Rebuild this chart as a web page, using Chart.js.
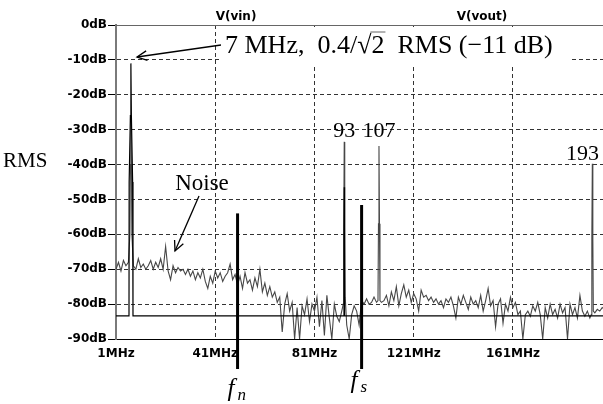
<!DOCTYPE html>
<html>
<head>
<meta charset="utf-8">
<script src="https://cdn.jsdelivr.net/npm/chart.js@4/dist/chart.umd.min.js"></script>
<style>
  html, body { margin: 0; padding: 0; background: #fff; }
</style>
</head>
<body>
<canvas id="fftChart" width="603" height="404"></canvas>
<script>
// x axis tick positions (MHz)
const freqTicks = [1, 41, 81, 121, 161];

// V(vin): flat floor with the 7 MHz tone and its alias at 93 MHz
const vinFreq = [1, 6.24, 6.3, 6.8, 7, 7.2, 7.7, 7.85, 92.85, 92.9, 93, 93.1, 93.15, 197.3];
const vinDb = [-83.4, -83.4, -45, -26, -11, -26, -45, -83.4, -83.4, -60, -46.5, -60, -83.4, -83.4];

// V(vout): noisy spectrum with images at 93, 107 and 193 MHz
const noiseFreq = [
  1, 2, 3, 4, 5, 6, 6.6, 6.8, 7, 7.2, 7.4,
  8, 9, 10, 11, 12, 13, 14, 15, 16, 17, 18, 19, 20,
  21, 22, 23, 24, 25, 26, 27, 28, 29, 30,
  31, 32, 33, 34, 35, 36, 37, 38, 39, 40,
  41, 42, 43, 44, 45, 46, 47, 48, 49, 50,
  51, 52, 53, 54, 55, 56, 57, 58, 59, 60,
  61, 62, 63, 64, 65, 66, 67, 68, 69, 70,
  71, 72, 73, 74, 75, 76, 77, 78, 79, 80,
  81, 82, 83, 84, 85, 86, 87, 88, 89, 90,
  91, 92, 92.6, 92.8, 93, 93.2, 93.4, 94, 95, 96, 97, 98, 99, 100,
  101, 102, 103, 104, 105, 106, 106.6, 106.8, 107, 107.2, 107.4, 108, 109, 110,
  111, 112, 113, 114, 115, 116, 117, 118, 119, 120,
  121, 122, 123, 124, 125, 126, 127, 128, 129, 130,
  131, 132, 133, 134, 135, 136, 137, 138, 139, 140,
  141, 142, 143, 144, 145, 146, 147, 148, 149, 150,
  151, 152, 153, 154, 155, 156, 157, 158, 159, 160,
  161, 162, 163, 164, 165, 166, 167, 168, 169, 170,
  171, 172, 173, 174, 175, 176, 177, 178, 179, 180,
  181, 182, 183, 184, 185, 186, 187, 188, 189, 190,
  191, 192, 192.6, 192.8, 193, 193.2, 193.4, 194, 195, 196, 197, 198
];
const noiseDb = [
  -70, -68, -70.5, -67.5, -69, -68, -60, -40, -26, -40, -60,
  -69, -70, -67, -69.5, -68.5, -70, -69, -67.5, -70, -68, -69.5, -67, -70,
  -63.5, -70.5, -73, -69, -71, -69.5, -70.5, -70, -71.5, -70,
  -72, -70.5, -73, -71, -72.5, -70, -73.5, -75.5, -72, -74,
  -70.5, -72.5, -71, -73.5, -72, -71, -68.5, -73, -71.5, -74.5,
  -72, -75.5, -71, -74, -73, -76, -72.5, -75, -70, -76.5,
  -74, -77.5, -75, -78, -76.5, -79.5, -78, -88, -80, -77,
  -82, -79.5, -90, -81, -90, -80.5, -83, -78.5, -85, -80,
  -82, -78, -86.5, -79, -89, -77.5, -84, -90, -80, -83.5,
  -85, -82, -80, -58, -33.5, -58, -78, -86, -90, -83, -80.5, -82, -86, -79,
  -80, -78.5, -80, -79.5, -78, -79.5, -79, -57, -34.7, -57, -79, -79.5, -79, -77.5,
  -80.5, -76.5, -79, -75, -80.5, -77, -74.5, -78, -76, -79.5,
  -77, -78.5, -82, -76, -78, -77.5, -79, -78, -79.5, -78.5,
  -80, -79, -81, -78.5, -79.5, -78, -80.5, -84, -78, -80,
  -77.5, -79.5, -81.5, -78, -80, -79, -81, -77.5, -82, -79,
  -75.5, -80.5, -79, -86.5, -80, -78.5, -85.5, -80, -82, -78,
  -81, -79.5, -83, -82, -90, -83, -82, -83.5, -80.5, -82,
  -79.5, -83, -90, -81, -84, -80, -83, -81.5, -84, -80,
  -82.5, -81, -90, -80, -83, -81, -84, -77.5, -82, -83.5,
  -82, -84, -83, -61, -39.8, -61, -82, -82.5, -81.5, -82, -81, -81.5
];

// f_n and f_s marker bars
const markerFreq = [50, 100];
const markerTopDb = [-54, -51.6];
const markerNames = ["n", "s"];

// labels above the image peaks
const peakNames = ["93", "107", "193"];
const peakFreq = [93, 107, 193];
const peakLabelDb = [-32.2, -32.2, -38.6];

const toPoints = (xs, ys) => xs.map((x, i) => ({ x: x, y: ys[i] }));

function drawArrow(ctx, x1, y1, x2, y2, head) {
  ctx.beginPath();
  ctx.moveTo(x1, y1);
  ctx.lineTo(x2, y2);
  ctx.stroke();
  const a = Math.atan2(y2 - y1, x2 - x1);
  ctx.beginPath();
  ctx.moveTo(x2 - head * Math.cos(a - 0.45), y2 - head * Math.sin(a - 0.45));
  ctx.lineTo(x2, y2);
  ctx.lineTo(x2 - head * Math.cos(a + 0.45), y2 - head * Math.sin(a + 0.45));
  ctx.stroke();
}

// frame line and all the text notes
const annotate = {
  id: "annotate",
  afterDraw(chart) {
    const ctx = chart.ctx;
    const { left, right, top, bottom } = chart.chartArea;
    const xs = chart.scales.x;
    const ys = chart.scales.y;
    ctx.save();

    // top line at 0 dB
    ctx.strokeStyle = "#666";
    ctx.lineWidth = 1;
    ctx.beginPath();
    ctx.moveTo(left, top + 0.5);
    ctx.lineTo(right, top + 0.5);
    ctx.stroke();

    // trace names
    ctx.fillStyle = "#000";
    ctx.font = "bold 12px 'DejaVu Sans'";
    ctx.textAlign = "center";
    ctx.textBaseline = "middle";
    ctx.fillText("V(vin)", 236, 17);
    ctx.fillText("V(vout)", 482, 17);

    // y label
    ctx.font = "21px 'Liberation Serif'";
    ctx.textAlign = "left";
    ctx.textBaseline = "alphabetic";
    ctx.fillText("RMS", 3, 167);

    // 7 MHz note with white box behind it
    ctx.fillStyle = "#fff";
    ctx.fillRect(219, 27, 350, 37);
    ctx.fillStyle = "#000";
    ctx.font = "26px 'Liberation Serif'";
    let tx = 225;
    const base = 53;
    const p1 = "7 MHz,  0.4/";
    ctx.fillText(p1, tx, base);
    tx += ctx.measureText(p1).width;
    ctx.fillText("\u221A", tx, base);
    const sw = ctx.measureText("\u221A").width;
    const twoW = ctx.measureText("2").width;
    ctx.fillText("2", tx + sw, base);
    ctx.lineWidth = 1;
    ctx.beginPath();
    ctx.moveTo(tx + sw - 1, base - 21);
    ctx.lineTo(tx + sw + twoW + 1, base - 21);
    ctx.stroke();
    tx += sw + twoW;
    ctx.fillText("  RMS (\u221211 dB)", tx, base);

    ctx.strokeStyle = "#000";
    ctx.lineWidth = 1.3;
    drawArrow(ctx, 221, 45, 137, 57, 11);

    // noise note
    ctx.font = "23px 'Liberation Serif'";
    ctx.textAlign = "center";
    ctx.fillText("Noise", 202, 190);
    drawArrow(ctx, 199, 196, 175, 251, 11);

    // peak labels
    ctx.font = "22px 'Liberation Serif'";
    peakNames.forEach((t, i) => {
      let x = xs.getPixelForValue(peakFreq[i]);
      if (x + ctx.measureText(t).width / 2 > right) x = right - ctx.measureText(t).width / 2 - 4;
      ctx.fillText(t, x, ys.getPixelForValue(peakLabelDb[i]));
    });

    // f_n and f_s bars and labels
    ctx.strokeStyle = "#000";
    ctx.lineWidth = 3;
    markerFreq.forEach((f, i) => {
      const x = xs.getPixelForValue(f);
      ctx.beginPath();
      ctx.moveTo(x, ys.getPixelForValue(markerTopDb[i]));
      ctx.lineTo(x, bottom + 30);
      ctx.stroke();
      const lb = i === 0 ? 396 : 388;
      ctx.textAlign = "left";
      ctx.font = "italic 25px 'Liberation Serif'";
      const fx = x - (i === 0 ? 10 : 11);
      ctx.fillText("f", fx, lb);
      ctx.font = "italic 17px 'Liberation Serif'";
      ctx.fillText(markerNames[i], fx + 10, lb + 4);
    });

    ctx.restore();
  },
};

const chart = new Chart(document.getElementById("fftChart").getContext("2d"), {
  type: "line",
  data: {
    datasets: [
      {
        label: "V(vin)",
        data: toPoints(vinFreq, vinDb),
        borderColor: "#000",
        borderWidth: 1.2,
        pointRadius: 0,
        tension: 0,
      },
      {
        label: "V(vout)",
        data: toPoints(noiseFreq, noiseDb),
        borderColor: "#474747",
        borderWidth: 1.1,
        pointRadius: 0,
        tension: 0,
      },
    ],
  },
  options: {
    responsive: false,
    animation: false,
    devicePixelRatio: 1,
    layout: { padding: { left: 0, top: 25, right: 0, bottom: 0 } },
    plugins: {
      legend: { display: false },
      tooltip: { enabled: false },
    },
    scales: {
      x: {
        type: "linear",
        min: 1,
        max: 197.3,
        afterBuildTicks: (scale) => {
          scale.ticks = freqTicks.map((v) => ({ value: v }));
        },
        afterFit: (scale) => {
          scale.height = 65;
        },
        ticks: {
          autoSkip: false,
          maxRotation: 0,
          padding: 8,
          color: "#000",
          font: { family: "DejaVu Sans", size: 12, weight: "bold" },
          callback: (v) => v + "MHz",
        },
        grid: {
          drawTicks: false,
          color: (c) => (c.tick && c.tick.value === 1 ? "rgba(0,0,0,0)" : "#333"),
        },
        border: { display: true, color: "#000", width: 1, dash: [4, 3] },
      },
      y: {
        min: -90,
        max: 0,
        afterFit: (scale) => {
          scale.width = 116;
        },
        ticks: {
          stepSize: 10,
          padding: 1,
          color: "#000",
          font: { family: "DejaVu Sans", size: 12, weight: "bold" },
          callback: (v) => v + "dB",
        },
        grid: {
          tickLength: 8,
          tickColor: "#000",
          color: (c) => (c.tick && (c.tick.value === 0 || c.tick.value === -90) ? "rgba(0,0,0,0)" : "#333"),
        },
        border: { display: true, color: "#7a7a7a", width: 2, dash: [4, 3] },
      },
    },
  },
  plugins: [annotate],
});
</script>
</body>
</html>
